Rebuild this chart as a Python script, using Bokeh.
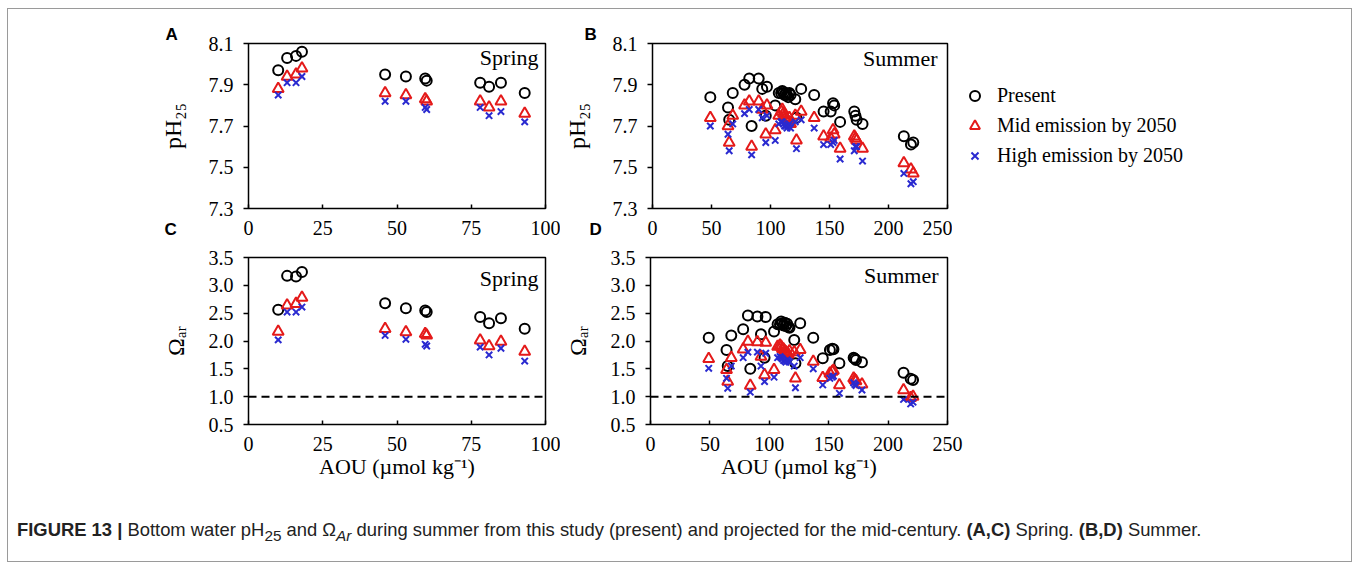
from bokeh.plotting import figure
from bokeh.models import Range1d, FixedTicker, Label, Span, Legend, LegendItem, Div, Title
from bokeh.layouts import column, row
from bokeh.embed import file_html
from bokeh.resources import INLINE

# ---------------- data ----------------
spring_aou = [10, 13, 16, 18, 46, 53, 59.5, 60, 78, 81, 85, 93]
spring_ph_present = [7.97, 8.03, 8.04, 8.06, 7.95, 7.94, 7.93, 7.92, 7.91, 7.89, 7.91, 7.86]
spring_ph_mid = [7.88, 7.94, 7.95, 7.98, 7.86, 7.85, 7.83, 7.82, 7.82, 7.79, 7.82, 7.76]
spring_ph_high = [7.85, 7.91, 7.91, 7.94, 7.82, 7.82, 7.79, 7.78, 7.79, 7.75, 7.77, 7.72]
spring_om_present = [2.56, 3.17, 3.16, 3.24, 2.68, 2.59, 2.55, 2.52, 2.43, 2.32, 2.41, 2.22]
spring_om_mid = [2.17, 2.64, 2.67, 2.78, 2.22, 2.16, 2.13, 2.10, 2.01, 1.91, 1.99, 1.81]
spring_om_high = [2.02, 2.52, 2.52, 2.61, 2.10, 2.03, 1.94, 1.91, 1.89, 1.75, 1.87, 1.64]

summer_aou = [49, 64, 68, 65, 78, 82, 84, 90, 93, 97, 96, 104, 107,
              109, 110, 111, 112, 113, 114, 115, 116, 117,
              121, 122, 126, 137, 145, 151, 153, 154, 159, 171, 172, 173, 178, 213, 219, 221]
summer_ph_present = [7.84, 7.79, 7.86, 7.73, 7.90, 7.93, 7.70, 7.93, 7.88, 7.89, 7.75, 7.80, 7.86,
                     7.86, 7.87, 7.86, 7.85, 7.86, 7.85, 7.84, 7.86, 7.85,
                     7.83, 7.74, 7.88, 7.85, 7.77, 7.77, 7.81, 7.80, 7.72, 7.77, 7.75, 7.73, 7.71, 7.65, 7.61, 7.62]
summer_ph_mid = [7.74, 7.70, 7.75, 7.62, 7.80, 7.82, 7.60, 7.82, 7.78, 7.80, 7.66, 7.68, 7.75,
                 7.77, 7.78, 7.76, 7.75, 7.74, 7.73, 7.72, 7.74, 7.71,
                 7.75, 7.63, 7.77, 7.74, 7.65, 7.64, 7.68, 7.66, 7.59, 7.65, 7.64, 7.63, 7.59, 7.52, 7.49, 7.47]
summer_ph_high = [7.70, 7.66, 7.71, 7.58, 7.76, 7.78, 7.56, 7.78, 7.74, 7.75, 7.62, 7.63, 7.71,
                  7.72, 7.72, 7.71, 7.70, 7.70, 7.69, 7.70, 7.71, 7.69,
                  7.72, 7.59, 7.73, 7.69, 7.61, 7.61, 7.62, 7.63, 7.54, 7.58, 7.60, 7.60, 7.53, 7.47, 7.42, 7.43]
summer_om_present = [2.06, 1.84, 2.10, 1.55, 2.21, 2.46, 1.50, 2.44, 2.12, 2.43, 1.70, 2.17, 2.30,
                     2.30, 2.35, 2.32, 2.28, 2.33, 2.27, 2.31, 2.25, 2.24,
                     2.02, 1.60, 2.32, 2.06, 1.69, 1.84, 1.86, 1.85, 1.60, 1.70, 1.68, 1.66, 1.62, 1.43, 1.32, 1.30]
summer_om_mid = [1.68, 1.48, 1.70, 1.27, 1.85, 1.99, 1.20, 1.98, 1.72, 1.97, 1.39, 1.48, 1.90,
                 1.92, 1.90, 1.86, 1.85, 1.82, 1.80, 1.78, 1.76, 1.82,
                 1.80, 1.33, 1.84, 1.63, 1.34, 1.42, 1.45, 1.47, 1.21, 1.33, 1.30, 1.28, 1.22, 1.12, 0.98, 1.00]
summer_om_high = [1.51, 1.33, 1.55, 1.15, 1.70, 1.80, 1.08, 1.80, 1.55, 1.78, 1.27, 1.35, 1.70,
                  1.72, 1.70, 1.68, 1.65, 1.64, 1.62, 1.66, 1.64, 1.62,
                  1.55, 1.16, 1.70, 1.50, 1.21, 1.33, 1.35, 1.37, 1.06, 1.25, 1.22, 1.20, 1.12, 0.95, 0.87, 0.90]

spring_x_ticks = [0, 25, 50, 75, 100]
summer_x_ticks = [0, 50, 100, 150, 200, 250]
ph_ticks = [7.3, 7.5, 7.7, 7.9, 8.1]
ph_tick_labels = ["7.3", "7.5", "7.7", "7.9", "8.1"]
om_ticks = [0.5, 1.0, 1.5, 2.0, 2.5, 3.0, 3.5]
om_tick_labels = ["0.5", "1.0", "1.5", "2.0", "2.5", "3.0", "3.5"]
saturation_level = 1.0

series_names = ["Present", "Mid emission by 2050", "High emission by 2050"]

SERIF = "Liberation Serif"
SANS = "Liberation Sans"
RED = "#e41a1a"
BLUE = "#2a2ad0"
MARKERS = [dict(marker="circle", size=10, fill_color=None, line_color="black", line_width=2),
           dict(marker="triangle", size=11, fill_color=None, line_color=RED, line_width=2),
           dict(marker="x", size=9, line_color=BLUE, line_width=2)]


def make_panel(width, left, right, height, top, bottom, xr, yr, xticks, yticks, ylabels,
               ylabel, ylabel_standoff):
    p = figure(width=width, height=height, output_backend="svg", toolbar_location=None,
               x_range=Range1d(*xr), y_range=Range1d(*yr),
               min_border_left=left, min_border_right=right,
               min_border_top=top, min_border_bottom=bottom,
               background_fill_color="white", border_fill_color="white")
    p.grid.visible = False
    p.outline_line_color = "black"
    p.outline_line_width = 1.5
    for ax in p.xaxis:
        ax.ticker = FixedTicker(ticks=xticks)
        ax.axis_line_color = None
        ax.major_tick_in = 4
        ax.major_tick_out = 0
        ax.major_tick_line_width = 1.5
        ax.minor_tick_line_color = None
        ax.major_label_text_font = SERIF
        ax.major_label_text_font_size = "20px"
        ax.major_label_text_color = "black"
        ax.major_label_standoff = 12
    for ax in p.yaxis:
        ax.ticker = FixedTicker(ticks=yticks)
        ax.major_label_overrides = {t: s for t, s in zip(yticks, ylabels)}
        ax.axis_line_color = None
        ax.major_tick_in = 0
        ax.major_tick_out = 5
        ax.major_tick_line_width = 1.5
        ax.minor_tick_line_color = None
        ax.major_label_text_font = SERIF
        ax.major_label_text_font_size = "20px"
        ax.major_label_text_color = "black"
        ax.major_label_standoff = 10
        ax.axis_label = ylabel
        ax.axis_label_text_font = SERIF
        ax.axis_label_text_font_size = "24px"
        ax.axis_label_text_font_style = "normal"
        ax.axis_label_text_color = "black"
        ax.axis_label_standoff = ylabel_standoff
    return p


def add_series(p, x, present, mid, high):
    return [p.scatter(x, ys, **m) for ys, m in zip((present, mid, high), MARKERS)]


def season_label(p, s, x, y):
    p.add_layout(Label(x=x, y=y, x_units="screen", y_units="screen", text=s,
                       text_font=SERIF, text_font_size="22px", text_color="black",
                       text_align="right", text_baseline="middle"))


def panel_letter(p, s, side, offset, standoff, valign):
    p.add_layout(Title(text=s, align="left", offset=offset, standoff=standoff,
                       vertical_align=valign, text_font=SANS, text_font_size="17px",
                       text_font_style="bold", text_color="black"), side)


ROW1_H, ROW2_H = 238, 243
W_LEFT, W_RIGHT = 552, 791
W_B = 392
PH_LABEL = "pH\u2082\u2085"
OM_LABEL = "\u03a9\u2090\u1d63"

# Panel A
pA = make_panel(W_LEFT, 240, 15, ROW1_H, 34, 39, (0, 100), (7.3, 8.1),
                spring_x_ticks, ph_ticks, ph_tick_labels, PH_LABEL, 20)
add_series(pA, spring_aou, spring_ph_present, spring_ph_mid, spring_ph_high)
season_label(pA, "Spring", 290, 151)
panel_letter(pA, "A", "above", -83, 0, "bottom")
panel_letter(pA, "C", "below", -84, -36, "top")

# Panel B
pB = make_panel(W_B, 90, 5, ROW1_H, 34, 39, (0, 250), (7.3, 8.1),
                summer_x_ticks, ph_ticks, ph_tick_labels, PH_LABEL, 20)
add_series(pB, summer_aou, summer_ph_present, summer_ph_mid, summer_ph_high)
season_label(pB, "Summer", 285, 150)
panel_letter(pB, "B", "above", -68, 0, "bottom")
panel_letter(pB, "D", "below", -63, -36, "top")

# Legend area to the right of panel B: same series, drawn with ranges that show
# no points, so that only the legend (key) is visible there.
pL = figure(width=W_RIGHT - W_B, height=ROW1_H, output_backend="svg", toolbar_location=None,
            x_range=Range1d(-20, -10), y_range=Range1d(0, 1),
            x_axis_location=None, y_axis_location=None,
            min_border_left=0, min_border_right=0, min_border_top=0, min_border_bottom=0,
            background_fill_color="white", border_fill_color="white", outline_line_color=None)
pL.grid.visible = False
rL = add_series(pL, summer_aou, summer_ph_present, summer_ph_mid, summer_ph_high)
legend = Legend(items=[LegendItem(label=n, renderers=[r]) for n, r in zip(series_names, rL)],
                location=(10, 40), orientation="vertical",
                label_text_font=SERIF, label_text_font_size="20px", label_text_color="black",
                glyph_width=25, glyph_height=25, spacing=5, padding=0, margin=0,
                label_standoff=10, border_line_color=None, background_fill_alpha=0)
pL.add_layout(legend)

# Panel C
pC = make_panel(W_LEFT, 240, 15, ROW2_H, 10, 66, (0, 100), (0.5, 3.5),
                spring_x_ticks, om_ticks, om_tick_labels, OM_LABEL, 17)
pC.add_layout(Span(location=saturation_level, dimension="width", line_color="black",
                   line_width=2, line_dash="8 5"))
add_series(pC, spring_aou, spring_om_present, spring_om_mid, spring_om_high)
pC.xaxis.axis_label = "AOU (\u00b5mol kg\u207b\u00b9)"
season_label(pC, "Spring", 290, 146)

# Panel D
pD = make_panel(W_RIGHT, 90, 404, ROW2_H, 10, 66, (0, 250), (0.5, 3.5),
                summer_x_ticks, om_ticks, om_tick_labels, OM_LABEL, 17)
pD.add_layout(Span(location=saturation_level, dimension="width", line_color="black",
                   line_width=2, line_dash="8 5"))
add_series(pD, summer_aou, summer_om_present, summer_om_mid, summer_om_high)
pD.xaxis.axis_label = "AOU (\u00b5mol kg\u207b\u00b9)"
season_label(pD, "Summer", 288, 149)

for p in (pC, pD):
    p.xaxis.axis_label_text_font = SERIF
    p.xaxis.axis_label_text_font_size = "22px"
    p.xaxis.axis_label_text_font_style = "normal"
    p.xaxis.axis_label_text_color = "black"
    p.xaxis.axis_label_standoff = 0

caption = Div(
    text=('<div style="margin:22px 0 0 4px;font-family:\'Liberation Sans\',Arial,sans-serif;'
          'font-size:18.4px;color:#222;white-space:nowrap">'
          '<b>FIGURE 13 |</b> Bottom water pH<sub>25</sub> and \u03a9<sub><i>Ar</i></sub> during summer '
          'from this study (present) and projected for the mid-century. '
          '<b>(A,C)</b> Spring. <b>(B,D)</b> Summer.</div>'),
    width=W_LEFT + W_RIGHT, height=71)

layout = column(row(pA, pB, pL), row(pC, pD), caption, margin=(9, 0, 0, 8),
                width=W_LEFT + W_RIGHT, height=ROW1_H + ROW2_H + 71, sizing_mode="fixed",
                styles={"outline": "1px solid #9a9a9a", "background": "white"})

open("out.html", "w").write(file_html(layout, INLINE))
